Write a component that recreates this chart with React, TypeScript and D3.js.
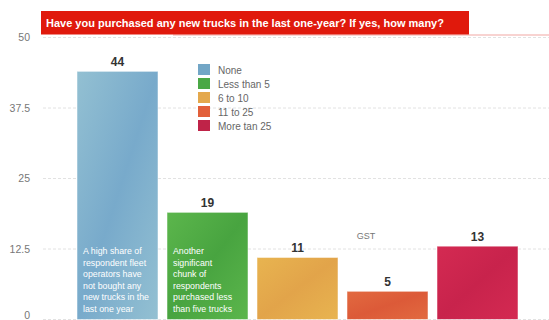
import React from "react";
import * as d3 from "d3";

const categories = ["None", "Less than 5", "6 to 10", "11 to 25", "More tan 25"];
const values = [44, 19, 11, 5, 13];
const yTicks = [0, 12.5, 25, 37.5, 50];
const legendColors = ["#72a6c6", "#4aa845", "#e4a84c", "#e2603a", "#bf2348"];
const barTop = ["#93c0d2", "#5cb64c", "#e8b450", "#e26a40", "#d42a52"];
const barBottom = ["#78aacb", "#48a440", "#e2a44a", "#dc5a38", "#c8234c"];
const title = "Have you purchased any new trucks in the last one-year? If yes, how many?";
const noteNone = ["A high share of", "respondent fleet", "operators have", "not bought any", "new trucks in the", "last one year"];
const noteLess5 = ["Another", "significant", "chunk of", "respondents", "purchased less", "than five trucks"];

export default function App() {
  const W = 549, H = 320;
  const y = d3.scaleLinear().domain([0, 50]).range([319.5, 37.5]);
  const x = d3.scaleBand<string>().domain(categories).range([72.5, 522.5]).paddingInner(0.1).paddingOuter(0.05);
  const notes = [noteNone, noteLess5];
  return (
    <svg width={W} height={H} style={{ position: "absolute", left: 0, top: 0, fontFamily: "Arial, 'Liberation Sans', sans-serif" }}>
      <defs>
        {categories.map((c, i) => (
          <linearGradient key={c} id={`g${i}`} x1="0" y1="0" x2="1" y2="1">
            <stop offset="0" stopColor={barTop[i]} />
            <stop offset="0.5" stopColor={barBottom[i]} />
            <stop offset="1" stopColor={barTop[i]} />
          </linearGradient>
        ))}
      </defs>
      <rect width={W} height={H} fill="#fff" />
      {yTicks.map((t) => (
        <g key={t}>
          <line x1={43} x2={W} y1={y(t)} y2={y(t)} stroke="#e2e2e2" strokeDasharray="3,2" strokeWidth={1} />
          {t === 0 ? (
            <text x={30} y={319} textAnchor="end" fontSize={10.5} fill="#777">{t}</text>
          ) : (
            <text x={30} y={y(t)} dy="0.35em" textAnchor="end" fontSize={10.5} fill="#777">{t}</text>
          )}
        </g>
      ))}
      <line x1={173} x2={W} y1={35} y2={35} stroke="#f2a8a4" strokeWidth={1.2} />
      <rect x={41} y={11} width={428} height={23.5} fill="#e0190c" />
      <text x={46} y={26.5} fontSize={11} fontWeight="bold" fill="#fff">{title}</text>
      {categories.map((c, i) => (
        <g key={c}>
          <rect x={x(c)} y={y(values[i])} width={x.bandwidth()} height={y(0) - y(values[i])} fill={`url(#g${i})`} stroke="#ffffff" strokeOpacity={0.5} />
          <text x={(x(c) as number) + x.bandwidth() / 2} y={y(values[i]) - 5} textAnchor="middle" fontSize={12} fontWeight="bold" fill="#333">{values[i]}</text>
        </g>
      ))}
      {notes.map((lines, i) => (
        <g key={i}>
          {lines.map((l, j) => (
            <text key={j} x={(x(categories[i]) as number) + 6} y={254 + j * 11.6} fontSize={8.8} fill="#fff">{l}</text>
          ))}
        </g>
      ))}
      <text x={366} y={239} textAnchor="middle" fontSize={9} fill="#777">GST</text>
      {categories.map((c, i) => (
        <g key={c} transform={`translate(198, ${64 + i * 14})`}>
          <rect width={12} height={11} fill={legendColors[i]} />
          <text x={20} y={6} dy="0.35em" fontSize={10} fill="#666">{c}</text>
        </g>
      ))}
    </svg>
  );
}
